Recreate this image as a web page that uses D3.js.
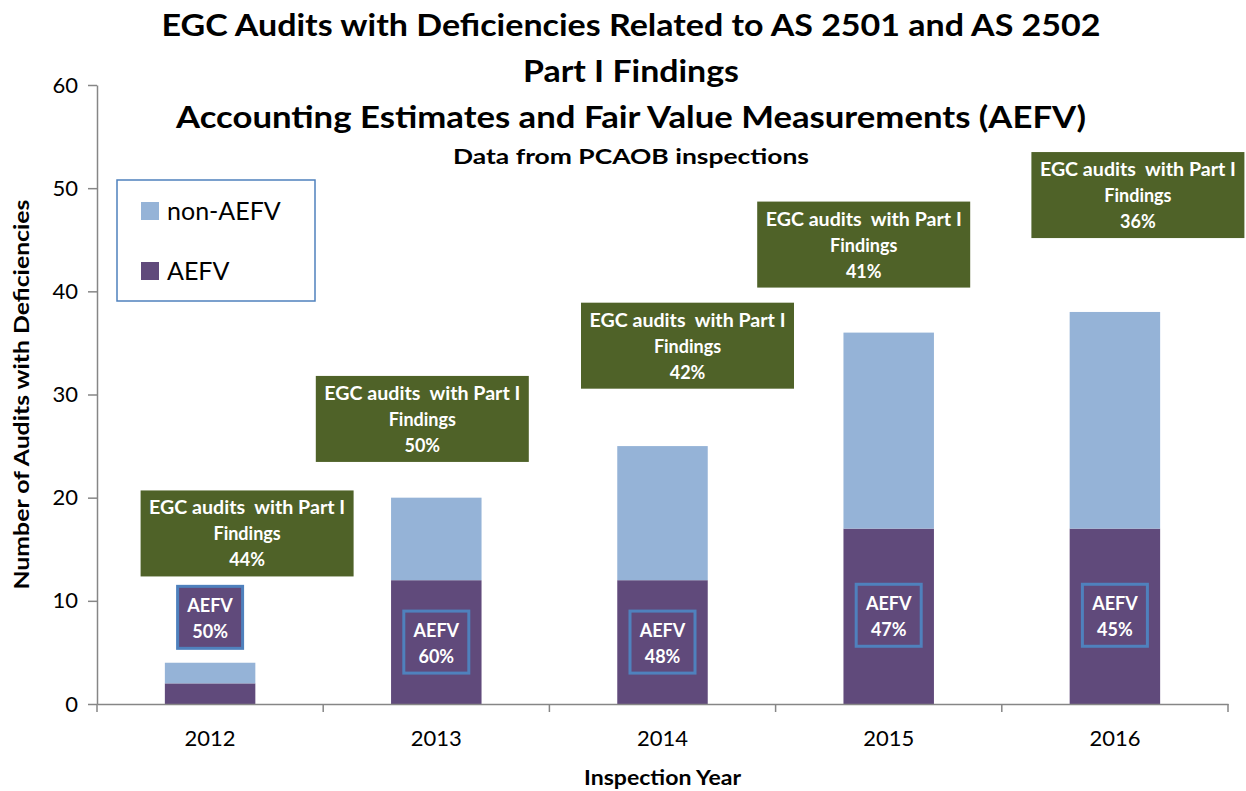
<!DOCTYPE html>
<html>
<head>
<meta charset="utf-8">
<script src="https://cdn.jsdelivr.net/npm/d3@7"></script>
<style>
  body { margin: 0; background: #fff; }
  svg { display: block; }
  text { font-family: Lato, "Open Sans", "DejaVu Sans", sans-serif; }
</style>
</head>
<body>
<svg id="chart" width="1246" height="791"></svg>
<script>
// ---------- data ----------
const years = ["2012", "2013", "2014", "2015", "2016"];
const aefvValues = [2, 12, 12, 17, 17];
const nonAefvValues = [2, 8, 13, 19, 21];
const aefvShare = ["50%", "60%", "48%", "47%", "45%"];
const partIShare = ["44%", "50%", "42%", "41%", "36%"];
const yTickValues = [0, 10, 20, 30, 40, 50, 60];
const seriesNames = ["non-AEFV", "AEFV"];
const titleLines = [
  "EGC Audits with Deficiencies Related to AS 2501 and AS 2502",
  "Part I Findings",
  "Accounting Estimates and Fair Value Measurements (AEFV)"
];
const subtitle = "Data from PCAOB inspections";
const xAxisTitle = "Inspection Year";
const yAxisTitle = "Number of Audits with Deficiencies";
const calloutLine1 = "EGC audits  with Part I";
const calloutLine2 = "Findings";
const aefvLabel = "AEFV";

// ---------- annotation layout (placement only) ----------
const calloutDx = [37, -14, 25, -25, 23];          // px offset of callout centre from bar centre
const calloutTopVal = [20.7, 31.8, 38.9, 48.7, 53.5]; // top of callout in axis units
const aefvBoxCenterVal = [8.4, 6.0, 6.0, 8.6, 8.6];   // centre of AEFV box in axis units

// ---------- styling ----------
const colNon = "#95B3D7";
const colAefv = "#604A7B";
const colGreen = "#4F6228";
const colBlue = "#4F81BD";
const colAxis = "#868686";

const svg = d3.select("#chart");

const plot = { left: 97, right: 1228, top: 85, bottom: 704 };

const x = d3.scaleBand()
  .domain(years)
  .range([plot.left, plot.right])
  .paddingInner(0.6)
  .paddingOuter(0.3);

const y = d3.scaleLinear()
  .domain([0, 60])
  .range([plot.bottom, plot.top]);

const rows = years.map((yr, i) => ({ year: yr, AEFV: aefvValues[i], "non-AEFV": nonAefvValues[i] }));
const stack = d3.stack().keys(["AEFV", "non-AEFV"]);
const stacked = stack(rows);
const colorOf = { "AEFV": colAefv, "non-AEFV": colNon };

// ---------- bars ----------
svg.append("g").selectAll("g")
  .data(stacked)
  .join("g")
  .attr("fill", d => colorOf[d.key])
  .selectAll("rect")
  .data(d => d)
  .join("rect")
  .attr("x", d => x(d.data.year))
  .attr("width", x.bandwidth())
  .attr("y", d => y(d[1]))
  .attr("height", d => y(d[0]) - y(d[1]));

// ---------- axes ----------
const yAxis = svg.append("g")
  .attr("transform", `translate(${plot.left},0)`)
  .call(d3.axisLeft(y).tickValues(yTickValues).tickSize(9).tickPadding(10).tickSizeOuter(0));
yAxis.select(".domain").attr("stroke", colAxis).attr("stroke-width", 1.5);
yAxis.selectAll(".tick line").attr("stroke", colAxis).attr("stroke-width", 1.5);
yAxis.selectAll(".tick text")
  .attr("fill", "#000").attr("font-size", 22).attr("font-family", "Lato, sans-serif");

const xAxis = svg.append("g")
  .attr("transform", `translate(0,${plot.bottom})`)
  .call(d3.axisBottom(x).tickSize(0).tickPadding(26).tickSizeOuter(0));
xAxis.select(".domain").attr("stroke", colAxis).attr("stroke-width", 1.5);
xAxis.selectAll(".tick text")
  .attr("fill", "#000").attr("font-size", 22).attr("font-family", "Lato, sans-serif");

// category boundary ticks
const step = x.step();
const boundaries = d3.range(years.length + 1).map(i => x(years[0]) - x.paddingOuter() * step + i * step);
svg.append("g").selectAll("line")
  .data(boundaries)
  .join("line")
  .attr("x1", d => d).attr("x2", d => d)
  .attr("y1", plot.bottom).attr("y2", plot.bottom + 8)
  .attr("stroke", colAxis).attr("stroke-width", 1.5);

// axis titles
svg.append("text")
  .attr("x", (plot.left + plot.right) / 2)
  .attr("y", 785)
  .attr("text-anchor", "middle")
  .attr("font-size", 21).attr("font-weight", "bold")
  .attr("textLength", 157).attr("lengthAdjust", "spacingAndGlyphs")
  .text(xAxisTitle);

svg.append("text")
  .attr("transform", `translate(29,${(plot.top + plot.bottom) / 2}) rotate(-90)`)
  .attr("text-anchor", "middle")
  .attr("font-size", 21).attr("font-weight", "bold")
  .attr("textLength", 390).attr("lengthAdjust", "spacingAndGlyphs")
  .text(yAxisTitle);

// ---------- titles ----------
const titleX = 631;
const titleBaselines = [36, 82, 128];
const titleWidths = [939, 216, 910];
titleLines.forEach((t, i) => {
  svg.append("text")
    .attr("x", titleX).attr("y", titleBaselines[i])
    .attr("text-anchor", "middle")
    .attr("font-size", 31).attr("font-weight", "bold")
    .attr("textLength", titleWidths[i]).attr("lengthAdjust", "spacingAndGlyphs")
    .text(t);
});
svg.append("text")
  .attr("x", titleX).attr("y", 164)
  .attr("text-anchor", "middle")
  .attr("font-size", 21).attr("font-weight", "bold")
  .attr("textLength", 356).attr("lengthAdjust", "spacingAndGlyphs")
  .text(subtitle);

// ---------- callouts (EGC audits with Part I findings) ----------
const calloutW = 213, calloutH = 86;
const callouts = svg.append("g").selectAll("g")
  .data(years.map((yr, i) => ({ yr, i })))
  .join("g")
  .attr("transform", d => {
    const cx = x(d.yr) + x.bandwidth() / 2 + calloutDx[d.i];
    return `translate(${cx},${y(calloutTopVal[d.i])})`;
  });
callouts.append("rect")
  .attr("x", -calloutW / 2).attr("y", 0)
  .attr("width", calloutW).attr("height", calloutH)
  .attr("fill", colGreen);
const cText = callouts.append("text")
  .attr("text-anchor", "middle")
  .attr("fill", "#fff")
  .attr("font-size", 18).attr("font-weight", "bold")
  .style("white-space", "pre");
cText.append("tspan").attr("x", 0).attr("y", 24).attr("textLength", 196).attr("lengthAdjust", "spacingAndGlyphs").text(calloutLine1);
cText.append("tspan").attr("x", 0).attr("y", 50).text(calloutLine2);
cText.append("tspan").attr("x", 0).attr("y", 76).text(d => partIShare[d.i]);

// ---------- AEFV share boxes ----------
const boxW = 65, boxH = 62;
const boxes = svg.append("g").selectAll("g")
  .data(years.map((yr, i) => ({ yr, i })))
  .join("g")
  .attr("transform", d => `translate(${x(d.yr) + x.bandwidth() / 2},${y(aefvBoxCenterVal[d.i])})`);
boxes.append("rect")
  .attr("x", -boxW / 2).attr("y", -boxH / 2)
  .attr("width", boxW).attr("height", boxH)
  .attr("fill", colAefv)
  .attr("stroke", colBlue).attr("stroke-width", 3);
const bText = boxes.append("text")
  .attr("text-anchor", "middle")
  .attr("fill", "#fff")
  .attr("font-size", 18).attr("font-weight", "bold");
bText.append("tspan").attr("x", 0).attr("y", -5).text(aefvLabel);
bText.append("tspan").attr("x", 0).attr("y", 21).text(d => aefvShare[d.i]);

// ---------- legend ----------
const legend = svg.append("g").attr("transform", "translate(117,180)");
legend.append("rect")
  .attr("width", 198).attr("height", 121)
  .attr("fill", "#fff")
  .attr("stroke", colBlue).attr("stroke-width", 1.5);
const li = legend.selectAll("g.item")
  .data(seriesNames)
  .join("g").attr("class", "item")
  .attr("transform", (d, i) => `translate(24,${22 + i * 60})`);
li.append("rect")
  .attr("width", 18).attr("height", 18)
  .attr("fill", d => colorOf[d]);
li.append("text")
  .attr("x", 26).attr("y", 18)
  .attr("font-size", 25)
  .attr("fill", "#000")
  .text(d => d);
</script>
</body>
</html>
